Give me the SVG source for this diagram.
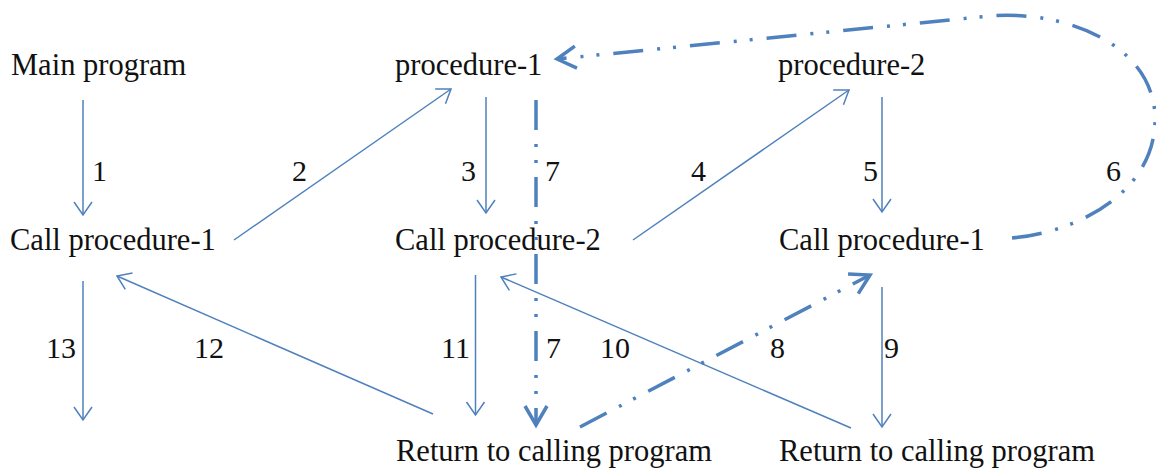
<svg xmlns="http://www.w3.org/2000/svg" width="1156" height="470" viewBox="0 0 1156 470">
  <style>
    .node { font-size: 30.5px; }
    .lbl { font-size: 30px; }
    .flow { fill: none; stroke: #4F81BD; stroke-width: 1.5; marker-end: url(#open); }
    .ret { fill: none; stroke: #4F81BD; stroke-width: 3.5; stroke-dasharray: 30 14 3 13 3 14; marker-end: url(#openBold); }
  </style>
  <defs>
    <marker id="open" markerUnits="userSpaceOnUse" viewBox="-16 -12 20 24" refX="0" refY="0" markerWidth="20" markerHeight="24" orient="auto" overflow="visible">
      <path d="M-13,-9 L0,0 L-13,9" fill="none" stroke="#4F81BD" stroke-width="1.5"/>
    </marker>
    <marker id="openBold" markerUnits="userSpaceOnUse" viewBox="-22 -14 26 28" refX="0" refY="0" markerWidth="26" markerHeight="28" orient="auto" overflow="visible">
      <path d="M-19,-11 L0,0 L-19,11" fill="none" stroke="#4F81BD" stroke-width="3.5" stroke-linejoin="miter"/>
    </marker>
  </defs>

  <g font-family="'Liberation Serif', 'Times New Roman', serif" fill="#111">
    <!-- program blocks -->
    <g id="main-program"><text class="node" x="11" y="75">Main program</text></g>
    <g id="procedure-1"><text class="node" x="395" y="75">procedure-1</text></g>
    <g id="procedure-2"><text class="node" x="778" y="75">procedure-2</text></g>
    <g id="main-call-p1"><text class="node" x="10" y="250">Call procedure-1</text></g>
    <g id="p1-call-p2"><text class="node" x="395" y="250">Call procedure-2</text></g>
    <g id="p2-call-p1"><text class="node" x="779" y="250">Call procedure-1</text></g>
    <g id="p1-return"><text class="node" x="396" y="461">Return to calling program</text></g>
    <g id="p2-return"><text class="node" x="779" y="461">Return to calling program</text></g>

    <!-- control flow, numbered in execution order -->
    <g id="connectors">
      <line class="flow" x1="83" y1="100" x2="83" y2="215"/>
      <line class="flow" x1="234" y1="240" x2="451" y2="89"/>
      <line class="flow" x1="486" y1="97" x2="486" y2="213"/>
      <line class="flow" x1="633" y1="240" x2="849" y2="90"/>
      <line class="flow" x1="882" y1="97" x2="882" y2="212"/>
      <path class="ret" d="M1012,238 C1080,232 1158,190 1155,115 C1151,42 1062,10 990,16 L557,59"/>
      <line class="ret" x1="536" y1="100" x2="536" y2="425"/>
      <line class="ret" x1="580" y1="427" x2="870" y2="275"/>
      <line class="flow" x1="882" y1="287" x2="882" y2="427"/>
      <line class="flow" x1="851" y1="428" x2="501" y2="277"/>
      <line class="flow" x1="475.5" y1="275" x2="475.5" y2="415"/>
      <line class="flow" x1="433" y1="414" x2="117" y2="276"/>
      <line class="flow" x1="83" y1="281" x2="83" y2="420"/>

      <g id="step-labels">
        <text class="lbl" x="92" y="181">1</text>
        <text class="lbl" x="292" y="181">2</text>
        <text class="lbl" x="461" y="181">3</text>
        <text class="lbl" x="545" y="181">7</text>
        <text class="lbl" x="691" y="181">4</text>
        <text class="lbl" x="863" y="181">5</text>
        <text class="lbl" x="1106" y="181">6</text>
        <text class="lbl" x="46" y="358">13</text>
        <text class="lbl" x="194" y="358">12</text>
        <text class="lbl" x="441" y="358">11</text>
        <text class="lbl" x="546" y="358">7</text>
        <text class="lbl" x="600" y="358">10</text>
        <text class="lbl" x="770" y="358">8</text>
        <text class="lbl" x="884" y="358">9</text>
      </g>
    </g>
  </g>
</svg>
